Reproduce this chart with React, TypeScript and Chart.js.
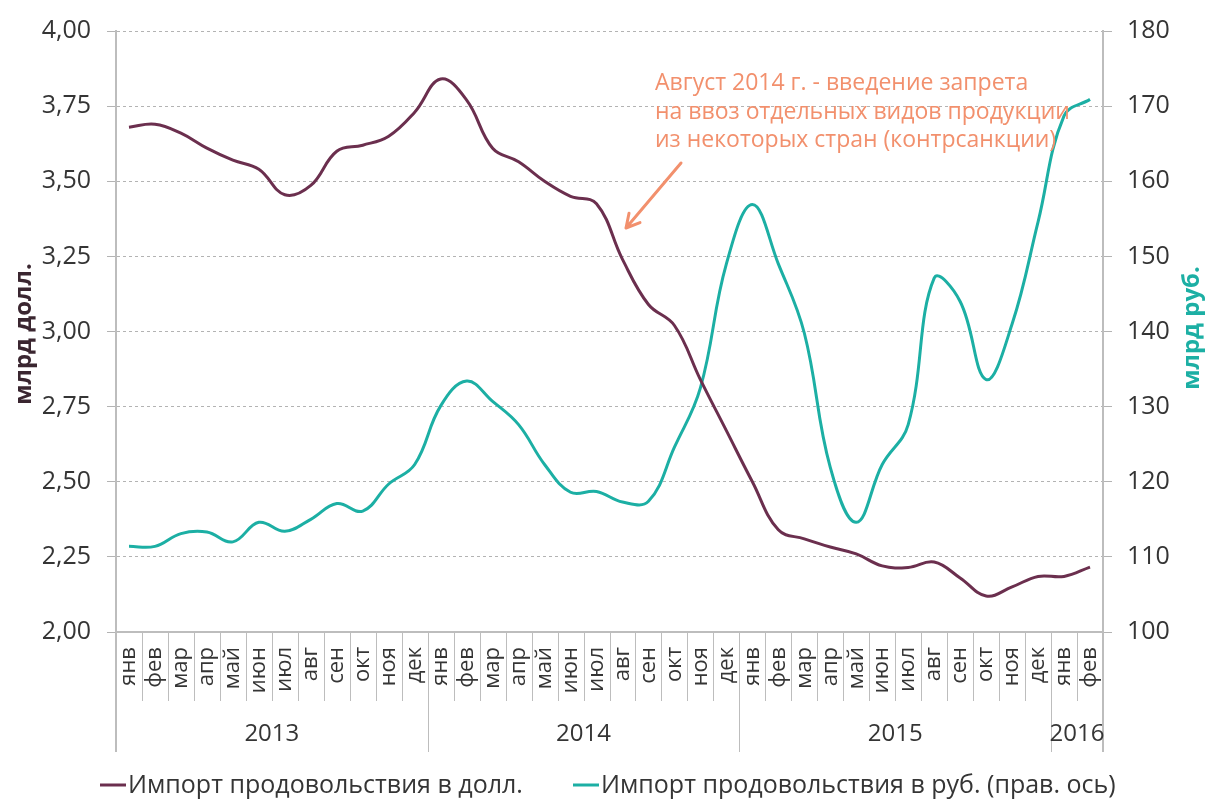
import React, { useEffect, useRef } from 'react';
import { Chart, registerables } from 'chart.js';

Chart.register(...registerables);

// ---------- data ----------
const monthLabels = [
  'янв', 'фев', 'мар', 'апр', 'май', 'июн', 'июл', 'авг', 'сен', 'окт', 'ноя', 'дек',
  'янв', 'фев', 'мар', 'апр', 'май', 'июн', 'июл', 'авг', 'сен', 'окт', 'ноя', 'дек',
  'янв', 'фев', 'мар', 'апр', 'май', 'июн', 'июл', 'авг', 'сен', 'окт', 'ноя', 'дек',
  'янв', 'фев',
];
const yearLabels = ['2013', '2014', '2015', '2016'];
const monthsPerYear = [12, 12, 12, 2];

// Импорт продовольствия, млрд долл.
const usdValues = [
  3.68, 3.69, 3.66, 3.61, 3.57, 3.54, 3.455, 3.486, 3.60, 3.62, 3.65, 3.73,
  3.84, 3.77, 3.61, 3.565, 3.50, 3.45, 3.425, 3.24, 3.09, 3.02, 2.84, 2.67,
  2.50, 2.34, 2.31, 2.283, 2.26, 2.22, 2.215, 2.233, 2.18, 2.12, 2.15, 2.185,
  2.185, 2.216,
];
// Импорт продовольствия, млрд руб.
const rubValues = [
  111.4, 111.4, 113.1, 113.3, 112.0, 114.6, 113.4, 115.0, 117.1, 116.1, 119.7, 122.3,
  130.1, 133.4, 130.7, 127.6, 122.3, 118.6, 118.7, 117.3, 117.4, 124.6, 132.5, 149.0,
  156.9, 149.0, 139.8, 121.9, 114.6, 122.3, 127.6, 147.1, 144.0, 133.6, 141.0, 154.6,
  168.7, 170.9,
];

const leftAxis = { min: 2, max: 4, step: 0.25 };
const rightAxis = { min: 100, max: 180, step: 10 };

const seriesNames = [
  'Импорт продовольствия в долл.',
  'Импорт продовольствия в руб. (прав. ось)',
];
const leftTitle = 'млрд долл.';
const rightTitle = 'млрд руб.';
const annotationLines = [
  'Август 2014 г. - введение запрета',
  'на ввоз отдельных видов продукции',
  'из некоторых стран (контрсанкции)',
];

// ---------- styles ----------
const FONT = '"Open Sans", "DejaVu Sans", sans-serif';
const MAROON = '#6b2f4e';
const TEAL = '#1cafa4';
const SALMON = '#f2906d';
const TEXT = '#353535';
const AXIS = '#bdbdbd';
const GRID = '#b3b3b3';

const overlayPlugin = {
  id: 'overlay',
  afterDraw(chart: any) {
    const { ctx, chartArea, scales } = chart;
    const xs = scales.x;
    const n = monthLabels.length;
    const band = xs.getPixelForValue(1) - xs.getPixelForValue(0);
    const x0 = xs.getPixelForValue(0) - band / 2;
    const bottom = chartArea.bottom;

    // year boundaries
    const yearBounds: number[] = [0];
    let acc = 0;
    monthsPerYear.forEach((c) => {
      acc += c;
      yearBounds.push(acc);
    });

    ctx.save();
    for (let k = 0; k <= n; k++) {
      const bx = Math.round(x0 + k * band);
      const isYear = yearBounds.includes(k);
      const edge = k === 0 || k === n;
      ctx.beginPath();
      ctx.strokeStyle = AXIS;
      ctx.lineWidth = edge ? 2 : 1;
      const px = edge ? bx : bx + 0.5;
      ctx.moveTo(px, bottom);
      ctx.lineTo(px, isYear ? 752 : 701);
      ctx.stroke();
    }

    // year labels
    ctx.fillStyle = TEXT;
    ctx.font = `24px ${FONT}`;
    ctx.textAlign = 'center';
    ctx.textBaseline = 'middle';
    yearLabels.forEach((yl, i) => {
      const s = yearBounds[i];
      const e = yearBounds[i + 1];
      const cx = x0 + ((s + e) / 2) * band;
      ctx.fillText(yl, cx, 734);
    });

    // axis titles
    ctx.font = `bold 24px ${FONT}`;
    ctx.fillStyle = '#3a2630';
    ctx.save();
    ctx.translate(24, 334);
    ctx.rotate(-Math.PI / 2);
    ctx.fillText(leftTitle, 0, 0);
    ctx.restore();
    ctx.fillStyle = TEAL;
    ctx.save();
    ctx.translate(1192, 328);
    ctx.rotate(-Math.PI / 2);
    ctx.fillText(rightTitle, 0, 0);
    ctx.restore();

    // annotation
    ctx.fillStyle = SALMON;
    ctx.font = `23px ${FONT}`;
    ctx.textAlign = 'left';
    ctx.textBaseline = 'alphabetic';
    annotationLines.forEach((t, i) => {
      ctx.fillText(t, 655, 90 + i * 28.5);
    });
    // arrow
    const ax1 = 681, ay1 = 163, ax2 = 626, ay2 = 228;
    ctx.strokeStyle = SALMON;
    ctx.lineWidth = 3;
    ctx.lineCap = 'round';
    ctx.beginPath();
    ctx.moveTo(ax1, ay1);
    ctx.lineTo(ax2, ay2);
    const ang = Math.atan2(ay2 - ay1, ax2 - ax1);
    const hl = 15;
    ctx.moveTo(ax2, ay2);
    ctx.lineTo(ax2 - hl * Math.cos(ang - 0.5), ay2 - hl * Math.sin(ang - 0.5));
    ctx.moveTo(ax2, ay2);
    ctx.lineTo(ax2 - hl * Math.cos(ang + 0.5), ay2 - hl * Math.sin(ang + 0.5));
    ctx.stroke();

    // legend
    const ly = 785;
    ctx.lineCap = 'butt';
    ctx.font = `25px ${FONT}`;
    ctx.textBaseline = 'middle';
    const items = [
      { x: 100, color: MAROON, text: seriesNames[0] },
      { x: 573, color: TEAL, text: seriesNames[1] },
    ];
    items.forEach((it) => {
      ctx.strokeStyle = it.color;
      ctx.lineWidth = 3;
      ctx.beginPath();
      ctx.moveTo(it.x, ly);
      ctx.lineTo(it.x + 26, ly);
      ctx.stroke();
      ctx.fillStyle = TEXT;
      ctx.fillText(it.text, it.x + 28, ly + 1);
    });
    ctx.restore();
  },
};

export default function App() {
  const canvasRef = useRef<HTMLCanvasElement | null>(null);

  useEffect(() => {
    if (!canvasRef.current) return;
    const chart = new Chart(canvasRef.current, {
      type: 'line',
      data: {
        labels: monthLabels,
        datasets: [
          {
            label: seriesNames[0],
            data: usdValues,
            yAxisID: 'y',
            borderColor: MAROON,
            backgroundColor: MAROON,
            borderWidth: 3,
            pointRadius: 0,
            tension: 0.4,
            fill: false,
          },
          {
            label: seriesNames[1],
            data: rubValues,
            yAxisID: 'y1',
            borderColor: TEAL,
            backgroundColor: TEAL,
            borderWidth: 3,
            pointRadius: 0,
            tension: 0.4,
            fill: false,
          },
        ],
      },
      options: {
        responsive: false,
        animation: false,
        layout: { padding: { top: 28, left: 0, right: 0, bottom: 0 } },
        plugins: {
          legend: { display: false },
          tooltip: { enabled: false },
          title: { display: false },
        },
        scales: {
          x: {
            type: 'category',
            offset: true,
            grid: { display: true, drawOnChartArea: false, drawTicks: false },
            border: { display: true, color: AXIS, width: 2 },
            ticks: {
              autoSkip: false,
              minRotation: 90,
              maxRotation: 90,
              padding: 15,
              color: TEXT,
              font: { family: FONT, size: 22 },
            },
            afterFit: (s: any) => {
              s.height = 169;
            },
          },
          y: {
            position: 'left',
            min: leftAxis.min,
            max: leftAxis.max,
            ticks: {
              stepSize: leftAxis.step,
              padding: 16,
              color: TEXT,
              font: { family: FONT, size: 25 },
              callback: (v: any) => Number(v).toFixed(2).replace('.', ','),
            },
            grid: {
              color: GRID,
              lineWidth: 1,
              tickLength: 9,
              tickColor: GRID,
              tickBorderDash: [],
            },
            border: { display: true, color: AXIS, width: 2, dash: [3, 3] },
            afterFit: (s: any) => {
              s.width = 116;
            },
          },
          y1: {
            position: 'right',
            min: rightAxis.min,
            max: rightAxis.max,
            ticks: {
              stepSize: rightAxis.step,
              padding: 15,
              color: TEXT,
              font: { family: FONT, size: 25 },
            },
            grid: {
              drawOnChartArea: false,
              tickLength: 9,
              color: GRID,
            },
            border: { display: true, color: AXIS, width: 2 },
            afterFit: (s: any) => {
              s.width = 102;
            },
          },
        },
      },
      plugins: [overlayPlugin],
    } as any);
    return () => chart.destroy();
  }, []);

  return (
    <div style={{ position: 'absolute', left: 0, top: 0, width: 1205, height: 801, background: '#fff' }}>
      <canvas ref={canvasRef} width={1205} height={801} style={{ display: 'block', width: 1205, height: 801 }} />
    </div>
  );
}
